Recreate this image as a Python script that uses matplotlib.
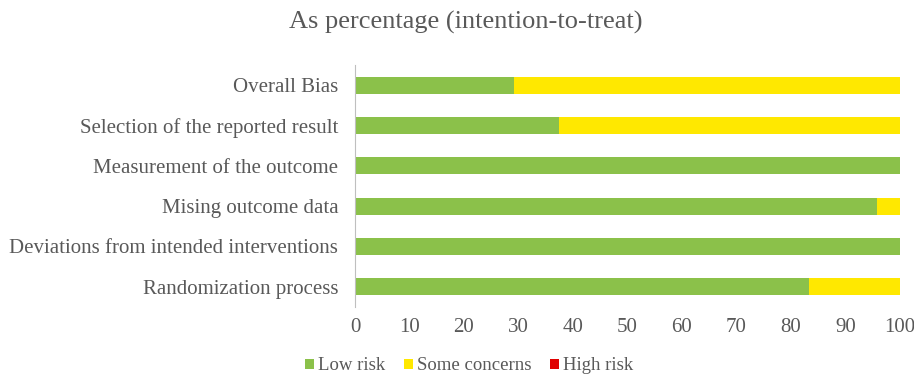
import matplotlib.pyplot as plt

domains = [
    "Randomization process",
    "Deviations from intended interventions",
    "Mising outcome data",
    "Measurement of the outcome",
    "Selection of the reported result",
    "Overall Bias",
]
low_risk = [83.33, 100, 95.83, 100, 37.5, 29.17]
some_concerns = [16.67, 0, 4.17, 0, 62.5, 70.83]
high_risk = [0, 0, 0, 0, 0, 0]
ticks = [0, 10, 20, 30, 40, 50, 60, 70, 80, 90, 100]

plt.rcParams['font.family'] = ['Liberation Serif', 'DejaVu Serif']
txt = '#595959'

fig = plt.figure(figsize=(9.14, 3.74), dpi=100)
ax = fig.add_axes([355 / 914, 1 - 307 / 374, 545 / 914, 242 / 374])

y = range(len(domains))
h = 0.42
ax.barh(y, low_risk, height=h, color='#8bc14a', label='Low risk')
ax.barh(y, some_concerns, height=h, left=low_risk, color='#ffe800', label='Some concerns')
left2 = [a + b for a, b in zip(low_risk, some_concerns)]
ax.barh(y, high_risk, height=h, left=left2, color='#e00000', label='High risk')

ax.set_xlim(0, 100)
ax.set_ylim(-0.5, len(domains) - 0.5)
ax.set_xticks(ticks)
ax.set_yticks(list(y))
ax.set_yticklabels(domains)
ax.tick_params(axis='both', length=0, labelsize=15, colors=txt)
ax.tick_params(axis='x', pad=8)
ax.tick_params(axis='y', pad=12)
for s in ['top', 'right', 'bottom']:
    ax.spines[s].set_visible(False)
ax.spines['left'].set_color('#bfbfbf')

fig.suptitle('As percentage (intention-to-treat)', x=466 / 914, y=1 - 11 / 374,
             va='top', fontsize=19, color=txt)

fig.legend(loc='center', bbox_to_anchor=(469 / 914, 1 - 366 / 374), ncol=3,
           frameon=False, fontsize=13.5, handlelength=0.5, handleheight=0.5,
           handletextpad=0.2, columnspacing=1.0, labelcolor=txt)

fig.savefig('out.png', dpi=100)
